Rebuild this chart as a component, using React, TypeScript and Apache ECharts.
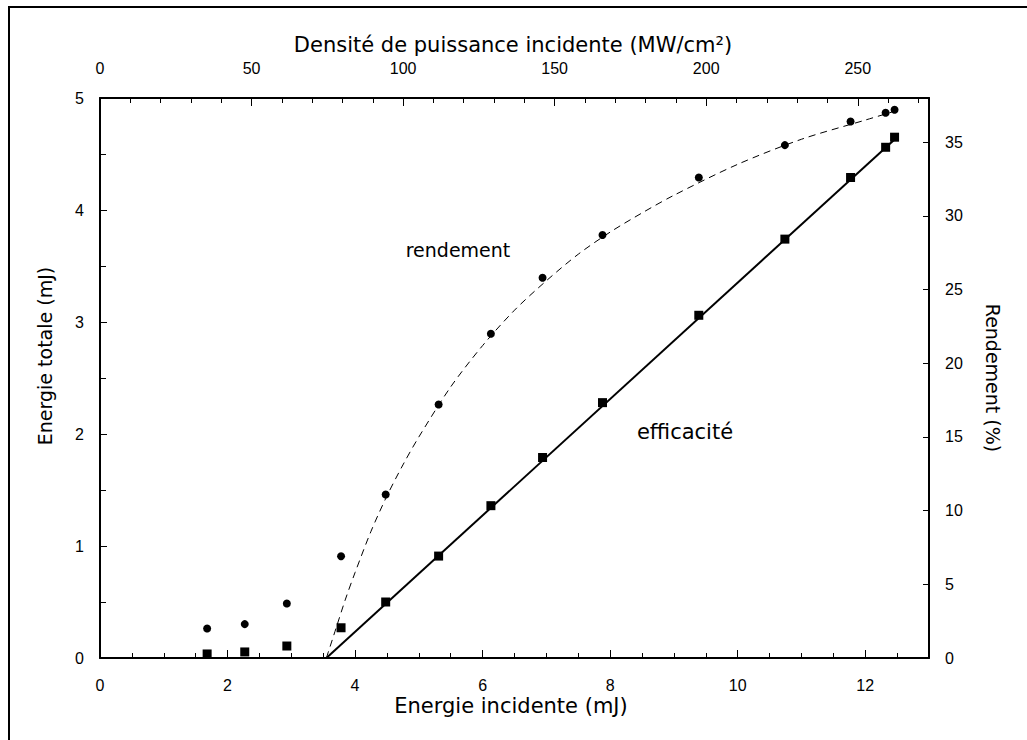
import React, { useEffect, useRef } from 'react';
import * as echarts from 'echarts';

const energieIncidente = [1.68, 2.27, 2.93, 3.78, 4.48, 5.31, 6.13, 6.94, 7.88, 9.39, 10.74, 11.77, 12.32, 12.46];
const energieTotale = [0.036, 0.054, 0.107, 0.27, 0.5, 0.91, 1.36, 1.79, 2.28, 3.06, 3.74, 4.29, 4.56, 4.65];
const rendement = [2.0, 2.3, 3.7, 6.9, 11.1, 17.2, 22.0, 25.8, 28.7, 32.6, 34.8, 36.4, 37.0, 37.2];

// Fitted linear line (efficacité), read end points
const fitLineX = [3.55, 12.46];
const fitLineY = [0, 4.63];

// Dashed fitted curve (rendement)
const curveX = [3.55, 3.7, 3.85, 4.0, 4.25, 4.5, 4.75, 5.0, 5.5, 6.0, 6.5, 7.0, 7.5, 8.0, 8.5, 9.0, 10.0, 11.0, 12.0, 12.46];
const curveY = [0, 2.0, 4.0, 5.8, 8.6, 11.0, 13.1, 15.0, 18.4, 21.2, 23.6, 25.6, 27.4, 28.9, 30.2, 31.4, 33.5, 35.2, 36.5, 37.1];

// Axes
const xMin = 0, xMax = 13, xMajor = 2, xMinor = 0.5;
const topMin = 0, topMax = 273.5, topMajor = 50, topMinor = 10;
const yLeftMin = 0, yLeftMax = 5, yLeftMajor = 1;
const yRightMin = 0, yRightMax = 38, yRightMajor = 5;

const titleTop = 'Densité de puissance incidente (MW/cm²)';
const titleBottom = 'Energie incidente (mJ)';
const titleLeft = 'Energie totale (mJ)';
const titleRight = 'Rendement (%)';
const noteRendement = 'rendement';
const noteEfficacite = 'efficacité';

const labelFont = { color: '#000', fontFamily: 'Liberation Sans', fontSize: 16 };
const titleFontFamily = 'DejaVu Sans';

export default function App() {
  const ref = useRef<HTMLDivElement>(null);
  useEffect(() => {
    document.body.style.margin = '0';
    const chart = echarts.init(ref.current!, null, { renderer: 'svg' });
    const lineBlack = { color: '#000', width: 2 };
    const txt = (text: string, x: number, y: number, size: number, rotation = 0) => ({
      type: 'text', x, y, rotation,
      style: { text, fontFamily: titleFontFamily, fontSize: size, fill: '#000', align: 'center', verticalAlign: 'middle' },
    });
    const option: any = {
      animation: false,
      backgroundColor: '#fff',
      grid: { left: 100, top: 98, width: 829, height: 560, containLabel: false },
      xAxis: [
        {
          type: 'value', position: 'bottom', min: xMin, max: xMax, interval: xMajor,
          axisLine: { show: true, onZero: false, lineStyle: lineBlack },
          axisTick: { show: true, inside: true, length: 8, lineStyle: { color: '#000', width: 1 } },
          axisLabel: { ...labelFont, margin: 19, showMaxLabel: false },
          splitLine: { show: false },
        },
        {
          type: 'value', position: 'bottom', min: xMin, max: xMax, interval: xMinor,
          axisLine: { show: false, onZero: false },
          axisTick: { show: true, inside: true, length: 5, lineStyle: { color: '#000', width: 1 } },
          axisLabel: { show: false },
          splitLine: { show: false },
        },
        {
          type: 'value', position: 'top', min: topMin, max: topMax, interval: topMajor,
          axisLine: { show: true, onZero: false, lineStyle: lineBlack },
          axisTick: { show: true, inside: true, length: 8, lineStyle: { color: '#000', width: 1 } },
          axisLabel: { ...labelFont, margin: 22, showMaxLabel: false },
          splitLine: { show: false },
        },
        {
          type: 'value', position: 'top', min: topMin, max: topMax, interval: topMinor,
          axisLine: { show: false, onZero: false },
          axisTick: { show: true, inside: true, length: 5, lineStyle: { color: '#000', width: 1 } },
          axisLabel: { show: false },
          splitLine: { show: false },
        },
      ],
      yAxis: [
        {
          type: 'value', position: 'left', min: yLeftMin, max: yLeftMax, interval: yLeftMajor,
          axisLine: { show: true, onZero: false, lineStyle: lineBlack },
          axisTick: { show: true, inside: true, length: 7, lineStyle: { color: '#000', width: 1 } },
          minorTick: { show: true, splitNumber: 2, length: 6, lineStyle: { color: '#000', width: 1 } },
          axisLabel: { ...labelFont, margin: 16 },
          splitLine: { show: false },
          minorSplitLine: { show: false },
        },
        {
          type: 'value', position: 'right', min: yRightMin, max: yRightMax, interval: yRightMajor,
          axisLine: { show: true, onZero: false, lineStyle: lineBlack },
          axisTick: { show: true, inside: true, length: 6, lineStyle: { color: '#000', width: 1 } },
          axisLabel: { ...labelFont, margin: 16, showMaxLabel: false },
          splitLine: { show: false },
        },
      ],
      series: [
        {
          type: 'line', xAxisIndex: 0, yAxisIndex: 1, showSymbol: false, smooth: 0.3,
          data: curveX.map((x, i) => [x, curveY[i]]),
          lineStyle: { color: '#000', width: 1, type: [7, 5] },
          z: 2,
        },
        {
          type: 'line', xAxisIndex: 0, yAxisIndex: 0, showSymbol: false,
          data: fitLineX.map((x, i) => [x, fitLineY[i]]),
          lineStyle: { color: '#000', width: 2 },
          z: 2,
        },
        {
          type: 'scatter', xAxisIndex: 0, yAxisIndex: 1, symbol: 'circle', symbolSize: 8,
          data: energieIncidente.map((x, i) => [x, rendement[i]]),
          itemStyle: { color: '#000', opacity: 1 },
          z: 3,
        },
        {
          type: 'scatter', xAxisIndex: 0, yAxisIndex: 0, symbol: 'rect', symbolSize: 9,
          data: energieIncidente.map((x, i) => [x, energieTotale[i]]),
          itemStyle: { color: '#000', opacity: 1 },
          z: 3,
        },
      ],
      graphic: [
        { type: 'rect', shape: { x: 9, y: 7, width: 1040, height: 760 }, style: { fill: 'none', stroke: '#000', lineWidth: 2 }, silent: true },
        txt(titleTop, 513, 45, 21),
        txt(titleBottom, 511, 706, 21),
        txt(titleLeft, 45, 356, 19, Math.PI / 2),
        txt(titleRight, 993, 378, 19, -Math.PI / 2),
        txt(noteRendement, 458, 250, 19),
        txt(noteEfficacite, 685, 432, 21),
      ],
    };
    chart.setOption(option);
    return () => chart.dispose();
  }, []);
  return <div ref={ref} style={{ width: 1027, height: 740 }} />;
}
